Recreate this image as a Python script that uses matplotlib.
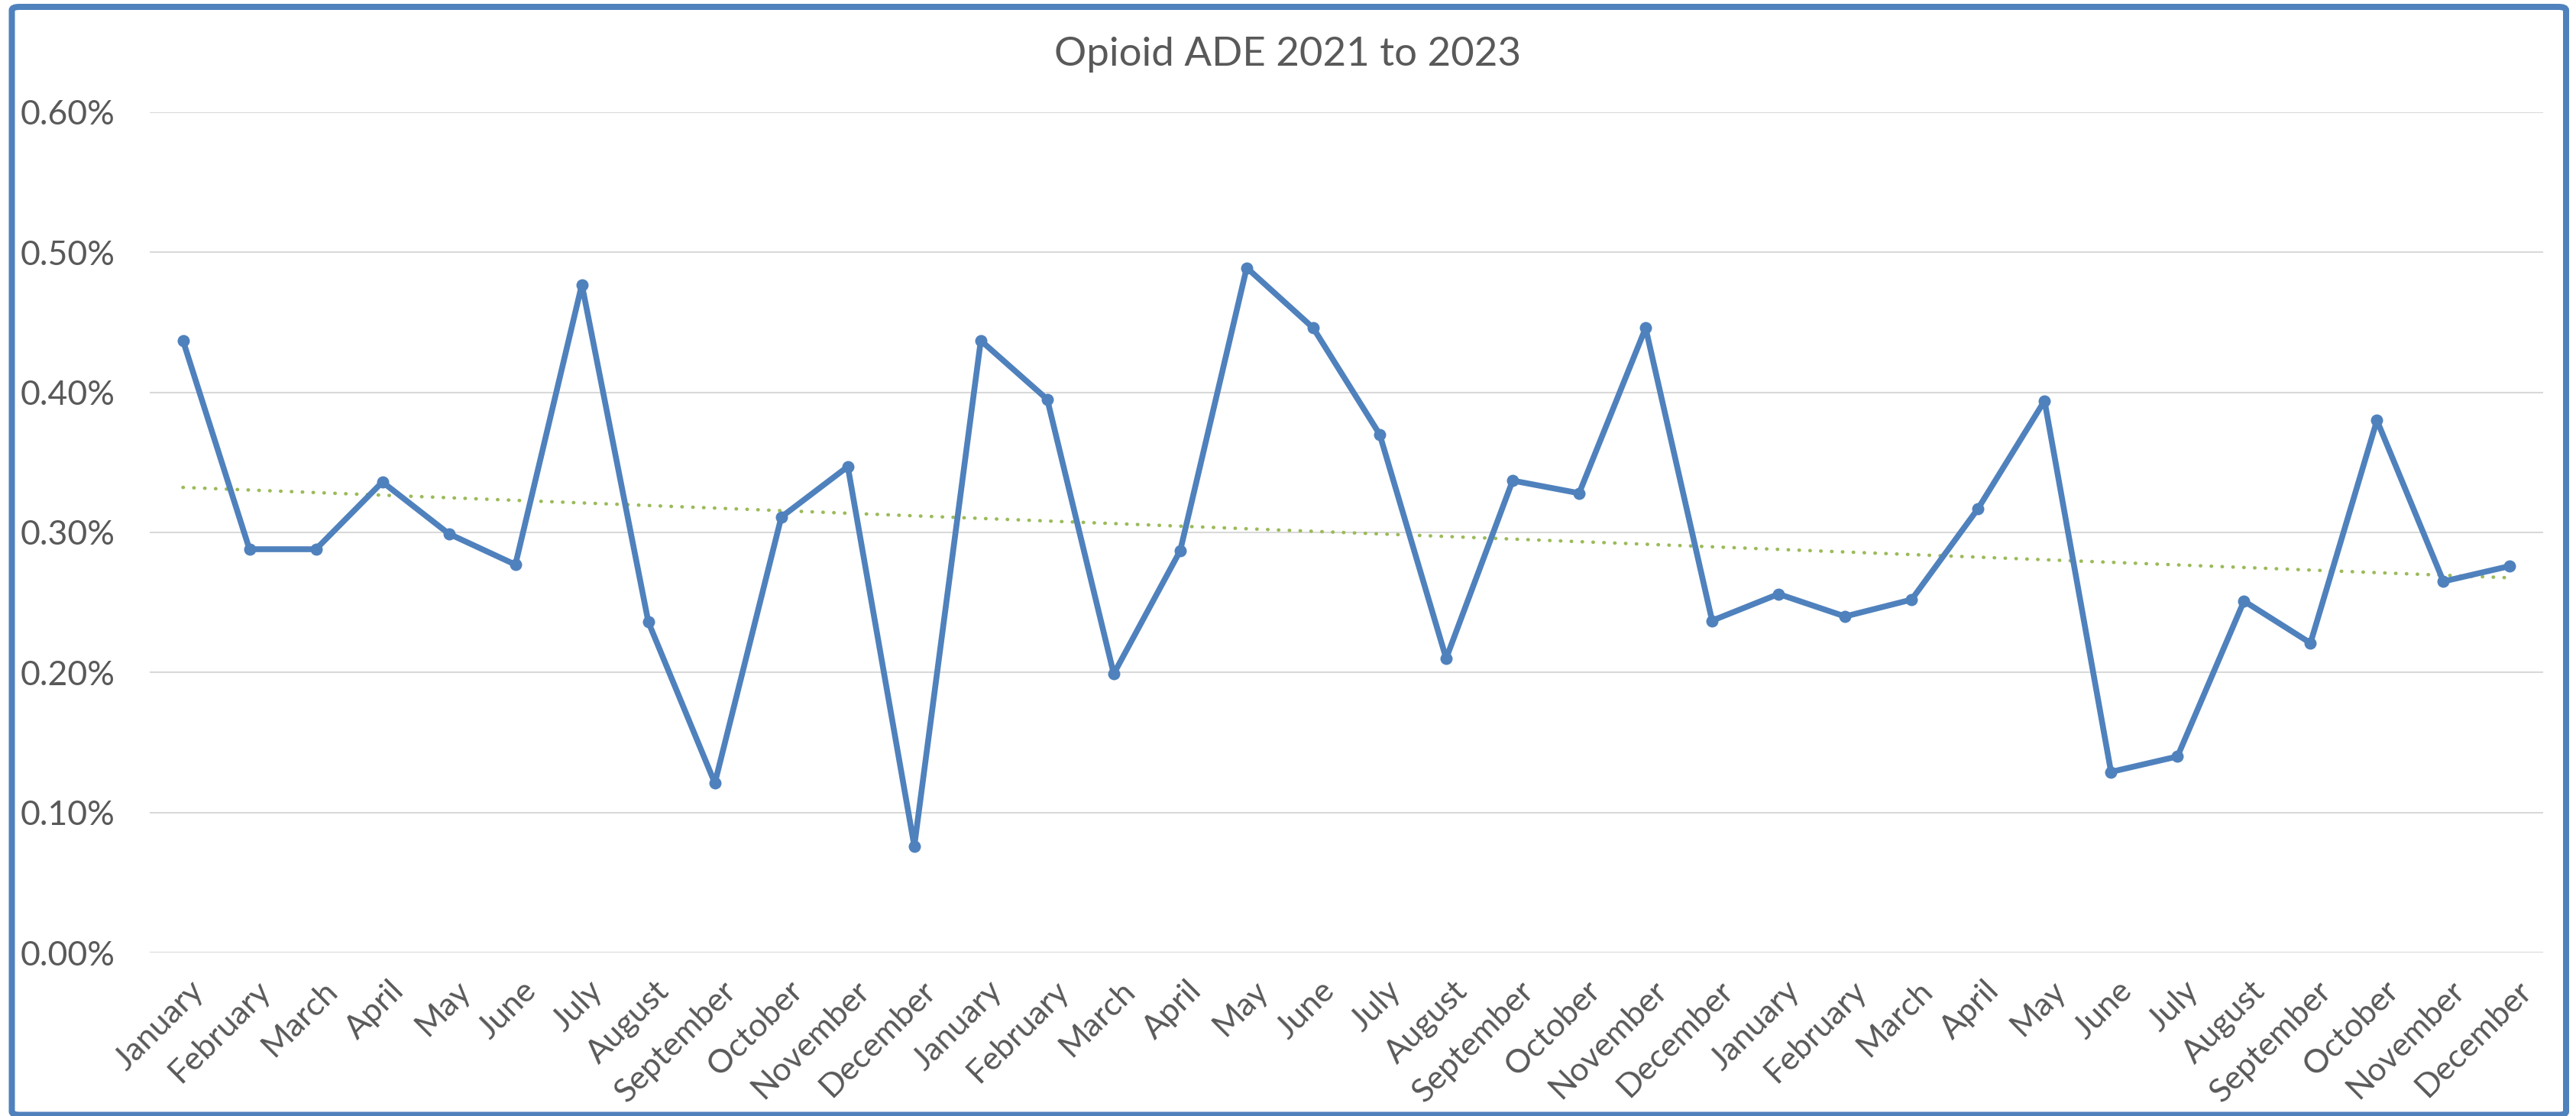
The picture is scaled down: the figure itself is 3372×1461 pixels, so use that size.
import numpy as np
import matplotlib
matplotlib.use("Agg")
import matplotlib.pyplot as plt
from matplotlib.patches import FancyBboxPatch
from matplotlib.ticker import FuncFormatter, MultipleLocator
import matplotlib.transforms as mtransforms

# Monthly opioid adverse drug event rate (%), Jan 2021 - Dec 2023
months = ["January", "February", "March", "April", "May", "June", "July",
          "August", "September", "October", "November", "December"]
labels = months * 3
ade_2021 = [0.437, 0.288, 0.288, 0.336, 0.299, 0.277, 0.477, 0.236, 0.121, 0.311, 0.347, 0.076]
ade_2022 = [0.437, 0.395, 0.199, 0.287, 0.489, 0.446, 0.370, 0.210, 0.337, 0.328, 0.446, 0.237]
ade_2023 = [0.256, 0.240, 0.252, 0.317, 0.394, 0.129, 0.140, 0.251, 0.221, 0.380, 0.265, 0.276]
title = "Opioid ADE 2021 to 2023"

values = np.array(ade_2021 + ade_2022 + ade_2023)
x = np.arange(len(values))

W, H = 3372, 1461
DPI = 100
plt.rcParams["font.family"] = ["Lato", "DejaVu Sans"]
TEXT = "#595959"
BLUE = "#4F81BD"
GREEN = "#9BBB59"
GRID = "#D9D9D9"

fig = plt.figure(figsize=(W / DPI, H / DPI), dpi=DPI)
fig.patch.set_facecolor("white")

# chart-area frame
px = lambda v: v / W
py = lambda v: v / H
frame = FancyBboxPatch((px(15.5), py(1.5)), px(3359 - 15.5), py(1452 - 1.5),
                       boxstyle="round,pad=0,rounding_size=0.003",
                       transform=fig.transFigure, facecolor="none",
                       edgecolor=BLUE, linewidth=8 * 72 / DPI, zorder=10)
fig.patches.append(frame)

ax = fig.add_axes([px(196), 1 - py(1247), px(3329 - 196), py(1247 - 147)])
ax.set_xlim(-0.5, len(values) - 0.5)
ax.set_ylim(0, 0.6)

# linear trend line
slope, intercept = np.polyfit(x, values, 1)
ax.plot(x, slope * x + intercept, color=GREEN, linewidth=3.3,
        linestyle=(0, (0.1, 3.0)), dash_capstyle="round", zorder=2)

ax.plot(x, values, color=BLUE, linewidth=5.5, marker="o", markersize=11.5,
        markeredgewidth=0, solid_joinstyle="round", zorder=3)

ax.yaxis.set_major_locator(MultipleLocator(0.1))
ax.yaxis.set_major_formatter(FuncFormatter(lambda v, p: f"{v:.2f}%"))
ax.grid(axis="y", color=GRID, linewidth=1.5)
ax.set_axisbelow(True)
for s in ax.spines.values():
    s.set_visible(False)

ax.tick_params(axis="y", length=0, pad=33, labelsize=32, labelcolor=TEXT)
ax.tick_params(axis="x", length=0, pad=22, labelsize=31, labelcolor=TEXT)
ax.set_xticks(x)
ax.set_xticklabels(labels, rotation=45, ha="right", va="top", rotation_mode="anchor")
shift = mtransforms.ScaledTranslation(8 / DPI, 0, fig.dpi_scale_trans)
for lbl in ax.get_xticklabels():
    lbl.set_transform(lbl.get_transform() + shift)

fig.text(0.5, 1 - py(86), title, ha="center", va="baseline",
         fontsize=38, color=TEXT)

fig.savefig("out.png", dpi=DPI, facecolor="white")
